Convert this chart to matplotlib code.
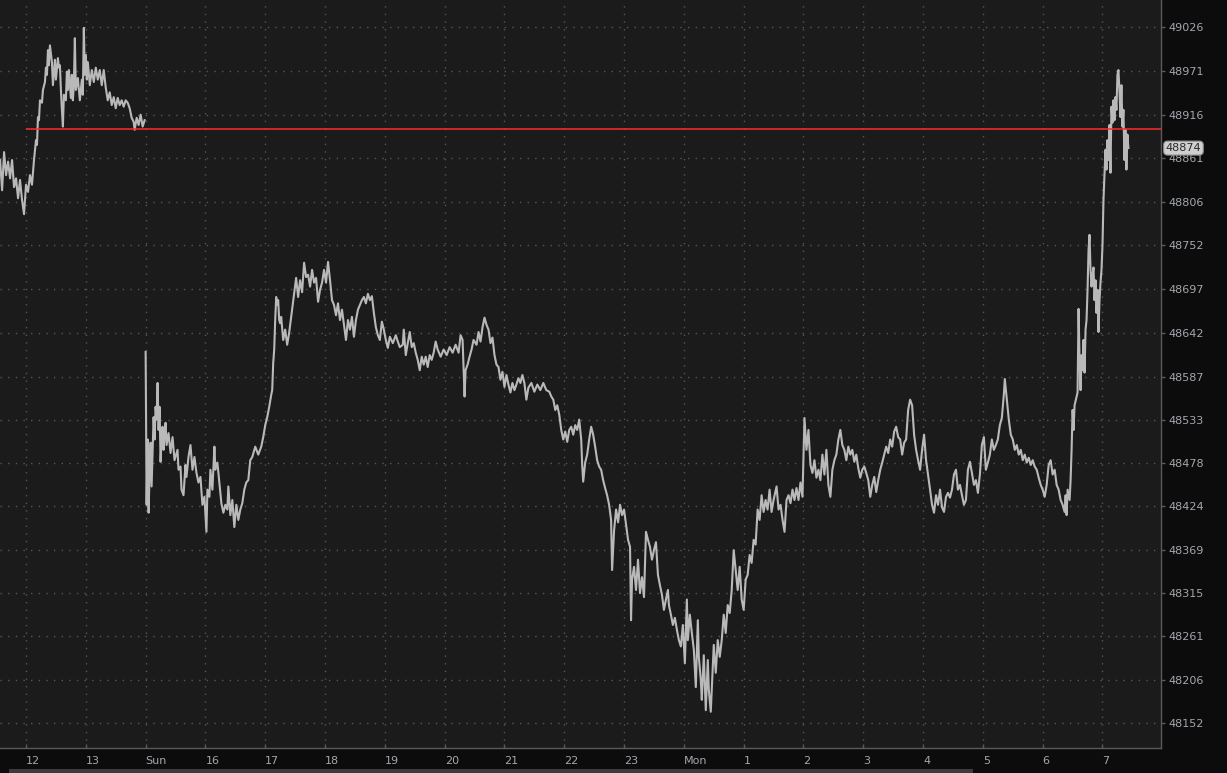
import matplotlib.pyplot as plt
from matplotlib.patches import Rectangle
from matplotlib.transforms import blended_transform_factory

# session minutes from the "12" tick, and 1-min prices
fri_min = [-26, -24, -22, -20, -18, -16, -14, -12, -10, -8,
           -6, -4, -2, 0, 2, 4, 6, 8, 10, 11,
           12, 13, 14, 16, 17, 19, 20, 21, 22, 23,
           24, 26, 27, 29, 30, 32, 33, 34, 35, 36,
           37, 38, 40, 41, 42, 43, 45, 46, 47, 48,
           49, 50, 52, 54, 56, 57, 58, 59, 60, 61,
           62, 64, 66, 68, 70, 72, 74, 76, 78, 80,
           82, 84, 86, 88, 90, 92, 94, 96, 98, 100,
           102, 104, 106, 108, 109, 111, 113, 115, 117, 119]
fri_px = [48859, 48821, 48869, 48840, 48857, 48836, 48859, 48825, 48836, 48811,
          48834, 48809, 48791, 48828, 48819, 48840, 48828, 48859, 48884, 48878,
          48913, 48909, 48934, 48931, 48947, 48957, 48975, 48966, 48997, 48978,
          49003, 48982, 48953, 48985, 48960, 48987, 48975, 48978, 48947, 48922,
          48901, 48941, 48934, 48970, 48947, 48972, 48937, 48966, 48934, 48953,
          49012, 48947, 48962, 48934, 48960, 48941, 49025, 48966, 48991, 48960,
          48982, 48953, 48972, 48957, 48975, 48960, 48972, 48953, 48972, 48950,
          48934, 48944, 48928, 48938, 48924, 48937, 48928, 48934, 48926, 48934,
          48931, 48924, 48912, 48907, 48897, 48912, 48903, 48916, 48901, 48909]

sun_min = [120, 121, 122, 123, 124, 125, 126, 127, 128, 129,
           130, 131, 132, 133, 134, 135, 136, 137, 138, 139,
           140, 141, 143, 145, 147, 149, 152, 153, 155, 156,
           158, 160, 161, 163, 165, 167, 169, 171, 173, 175,
           177, 179, 181, 182, 184, 185, 187, 189, 190, 192,
           194, 196, 198, 200, 202, 203, 205, 207, 209, 211,
           213, 215, 217, 219, 221, 223, 225, 227, 230, 233,
           236, 238, 240, 242, 244, 246, 247, 248, 249, 250,
           251, 252, 253, 254, 255, 256, 258, 260, 262, 264,
           266, 268, 270, 271, 273, 275, 277, 279, 281, 283,
           285, 287, 289, 291, 293, 295, 297, 299, 301, 303,
           305, 307, 309, 311, 313, 315, 317, 319, 321, 323,
           325, 327, 329, 331, 333, 335, 337, 339, 341, 343,
           345, 347, 349, 351, 353, 355, 357, 359, 361, 363,
           365, 368, 371, 373, 375, 378, 379, 381, 383, 385,
           387, 389, 391, 393, 395, 397, 399, 401, 403, 405,
           407, 409, 411, 413, 416, 419, 422, 425, 428, 431,
           434, 436, 438, 439, 440, 441, 443, 445, 447, 449,
           452, 454, 456, 458, 460, 462, 464, 466, 468, 470,
           472, 474, 476, 478, 480, 482, 484, 486, 488, 490,
           492, 494, 496, 498, 500, 502, 504, 507, 510, 513,
           516, 519, 522, 525, 527, 529, 531, 533, 535, 537,
           539, 541, 543, 545, 547, 549, 551, 553, 555, 557,
           558, 559, 561, 563, 565, 567, 569, 571, 573, 575,
           577, 579, 581, 583, 585, 587, 588, 590, 592, 594,
           596, 598, 600, 602, 604, 606, 607, 608, 610, 612,
           614, 616, 618, 620, 622, 624, 626, 628, 630, 632,
           634, 636, 638, 640, 642, 644, 645, 647, 649, 651,
           653, 655, 657, 659, 661, 663, 664, 666, 668, 670,
           672, 674, 675, 677, 678, 680, 682, 684, 685, 687,
           688, 690, 692, 694, 696, 698, 700, 702, 704, 706,
           708, 710, 712, 714, 716, 718, 720, 722, 724, 726,
           728, 730, 732, 734, 736, 738, 740, 742, 744, 746,
           748, 750, 753, 755, 757, 759, 761, 763, 765, 767,
           769, 771, 773, 775, 777, 779, 781, 783, 785, 787,
           789, 791, 793, 795, 797, 799, 801, 803, 805, 807,
           809, 811, 813, 815, 817, 819, 821, 823, 825, 827,
           829, 831, 833, 835, 837, 839, 841, 843, 845, 847,
           849, 851, 853, 855, 857, 859, 861, 863, 865, 867,
           869, 871, 873, 875, 877, 879, 881, 883, 885, 887,
           889, 891, 893, 895, 897, 899, 901, 903, 905, 907,
           909, 911, 913, 915, 917, 919, 921, 923, 925, 927,
           929, 931, 933, 935, 937, 939, 941, 943, 945, 947,
           949, 951, 953, 955, 957, 959, 961, 963, 965, 967,
           969, 971, 973, 975, 977, 979, 981, 982, 984, 986,
           988, 990, 992, 994, 996, 998, 1000, 1002, 1004, 1006,
           1008, 1010, 1012, 1014, 1016, 1018, 1020, 1022, 1024, 1026,
           1028, 1030, 1032, 1034, 1036, 1038, 1040, 1042, 1043, 1044,
           1045, 1047, 1048, 1049, 1050, 1051, 1052, 1054, 1055, 1056,
           1057, 1058, 1059, 1060, 1061, 1062, 1063, 1064, 1065, 1066,
           1067, 1068, 1069, 1070, 1071, 1072, 1073, 1074, 1075, 1076,
           1077, 1078, 1079, 1080, 1081, 1082, 1083, 1084, 1085, 1086,
           1087, 1088, 1089, 1090, 1091, 1092, 1093, 1094, 1095, 1096,
           1097, 1098, 1099, 1100, 1101, 1102, 1103, 1104, 1105, 1106]
sun_px = [48618, 48426, 48508, 48416, 48470, 48504, 48449, 48495, 48536, 48508,
          48549, 48533, 48579, 48520, 48549, 48480, 48508, 48524, 48495, 48514,
          48529, 48501, 48516, 48491, 48511, 48482, 48495, 48470, 48474, 48445,
          48438, 48476, 48461, 48486, 48501, 48470, 48486, 48466, 48454, 48461,
          48426, 48436, 48392, 48445, 48436, 48470, 48445, 48499, 48470, 48479,
          48454, 48428, 48416, 48426, 48420, 48449, 48413, 48432, 48398, 48426,
          48407, 48420, 48428, 48445, 48454, 48457, 48482, 48486, 48499, 48489,
          48499, 48511, 48526, 48536, 48549, 48564, 48570, 48604, 48621, 48658,
          48687, 48677, 48683, 48658, 48654, 48662, 48633, 48646, 48627, 48642,
          48662, 48683, 48702, 48711, 48687, 48708, 48693, 48730, 48712, 48715,
          48700, 48721, 48705, 48711, 48681, 48696, 48705, 48721, 48705, 48731,
          48708, 48683, 48677, 48664, 48679, 48658, 48671, 48652, 48633, 48658,
          48646, 48662, 48637, 48658, 48671, 48677, 48683, 48687, 48679, 48691,
          48683, 48688, 48667, 48649, 48639, 48633, 48656, 48646, 48633, 48623,
          48637, 48629, 48639, 48631, 48624, 48627, 48646, 48614, 48629, 48643,
          48624, 48629, 48617, 48608, 48595, 48612, 48602, 48612, 48599, 48614,
          48608, 48617, 48631, 48621, 48612, 48621, 48614, 48624, 48617, 48627,
          48617, 48639, 48633, 48599, 48562, 48595, 48602, 48612, 48621, 48633,
          48627, 48643, 48631, 48649, 48661, 48652, 48646, 48629, 48636, 48614,
          48602, 48599, 48583, 48593, 48574, 48589, 48577, 48567, 48579, 48570,
          48577, 48585, 48579, 48589, 48579, 48558, 48573, 48579, 48568, 48577,
          48570, 48579, 48570, 48568, 48562, 48558, 48545, 48551, 48539, 48520,
          48508, 48518, 48505, 48520, 48524, 48514, 48526, 48520, 48533, 48508,
          48476, 48455, 48479, 48489, 48508, 48524, 48514, 48499, 48482, 48474,
          48470, 48457, 48447, 48438, 48426, 48407, 48344, 48394, 48420, 48404,
          48426, 48413, 48420, 48401, 48382, 48373, 48281, 48332, 48348, 48319,
          48357, 48315, 48335, 48310, 48392, 48382, 48373, 48357, 48369, 48379,
          48338, 48325, 48313, 48294, 48307, 48319, 48300, 48288, 48275, 48284,
          48269, 48256, 48248, 48275, 48227, 48307, 48256, 48288, 48265, 48244,
          48197, 48281, 48235, 48206, 48181, 48237, 48168, 48231, 48194, 48166,
          48194, 48250, 48215, 48256, 48235, 48256, 48288, 48265, 48300, 48290,
          48319, 48369, 48344, 48319, 48348, 48307, 48294, 48332, 48338, 48363,
          48353, 48382, 48376, 48420, 48407, 48438, 48417, 48432, 48420, 48445,
          48417, 48432, 48449, 48420, 48426, 48407, 48392, 48432, 48438, 48428,
          48445, 48432, 48447, 48432, 48454, 48436, 48535, 48495, 48520, 48476,
          48466, 48482, 48460, 48470, 48457, 48489, 48464, 48495, 48451, 48436,
          48470, 48482, 48489, 48508, 48520, 48501, 48495, 48482, 48499, 48489,
          48495, 48480, 48489, 48472, 48460, 48470, 48474, 48466, 48457, 48436,
          48451, 48461, 48442, 48457, 48470, 48479, 48489, 48499, 48491, 48508,
          48499, 48518, 48524, 48511, 48508, 48489, 48504, 48508, 48545, 48558,
          48551, 48514, 48495, 48482, 48470, 48495, 48514, 48482, 48464, 48445,
          48426, 48416, 48438, 48426, 48445, 48423, 48417, 48436, 48441, 48435,
          48445, 48464, 48470, 48445, 48451, 48438, 48426, 48432, 48470, 48480,
          48466, 48451, 48457, 48441, 48464, 48501, 48511, 48470, 48479, 48489,
          48508, 48495, 48501, 48508, 48526, 48535, 48564, 48584, 48558, 48533,
          48514, 48508, 48495, 48501, 48489, 48495, 48482, 48489, 48479, 48485,
          48476, 48482, 48474, 48470, 48460, 48451, 48445, 48436, 48451, 48476,
          48482, 48464, 48470, 48451, 48445, 48432, 48426, 48417, 48438, 48413,
          48445, 48432, 48457, 48495, 48545, 48520, 48551, 48562, 48567, 48672,
          48608, 48570, 48614, 48595, 48633, 48592, 48646, 48658, 48696, 48746,
          48765, 48721, 48700, 48715, 48724, 48683, 48708, 48667, 48696, 48643,
          48683, 48705, 48721, 48752, 48809, 48840, 48872, 48847, 48884, 48859,
          48903, 48843, 48926, 48906, 48934, 48909, 48938, 48922, 48966, 48972,
          48947, 48913, 48953, 48901, 48922, 48859, 48897, 48847, 48891, 48874]

ref_level = 48898
last_price = 48874
y_ticks = [49026, 48971, 48916, 48861, 48806, 48752, 48697, 48642, 48587,
           48533, 48478, 48424, 48369, 48315, 48261, 48206, 48152]
x_labels = ['12', '13', 'Sun', '16', '17', '18', '19', '20', '21', '22',
            '23', 'Mon', '1', '2', '3', '4', '5', '6', '7']

assert len(fri_min) == len(fri_px) and len(sun_min) == len(sun_px)

W, H = 1227, 773
fig = plt.figure(figsize=(W / 100, H / 100), dpi=100, facecolor='#0c0c0c')
ax = fig.add_axes([0, 25 / H, 1161 / W, 748 / H])
ax.set_facecolor('#1b1b1b')

line_col = '#b9b9b9'
ax.plot(fri_min, fri_px, color=line_col, lw=1.5, zorder=3)
ax.plot(sun_min, sun_px, color=line_col, lw=1.5, zorder=3)
ax.hlines(ref_level, 0, 1140, color='#ff2b2b', lw=1.1, zorder=4)

ax.set_xlim(-26.1, 1138.7)
ax.set_ylim(48120.5, 49060)

ax.yaxis.tick_right()
ax.set_yticks(y_ticks)
ax.set_yticklabels([str(v) for v in y_ticks])
ax.set_xticks([60 * i for i in range(len(x_labels))])
ax.set_xticklabels(x_labels)
for lab in ax.get_xticklabels():
    lab.set_horizontalalignment('left')

lab_col = '#a3a7ad'
ax.tick_params(axis='y', which='both', length=3, width=1, color='#5a5a5a',
               labelcolor=lab_col, labelsize=8, pad=2)
ax.tick_params(axis='x', direction='in', length=3, width=1, color='#5a5a5a',
               labelcolor=lab_col, labelsize=8, pad=6)

ax.grid(True, color='#575757', linestyle=(0, (1, 4.5)), linewidth=1.0)
ax.set_axisbelow(True)

for side in ['top', 'left']:
    ax.spines[side].set_visible(False)
for side in ['right', 'bottom']:
    ax.spines[side].set_color('#5a5a5a')
    ax.spines[side].set_linewidth(1)

# last price tag
trans = blended_transform_factory(ax.transAxes, ax.transData)
ax.text(1.004, last_price, str(last_price), transform=trans, fontsize=8,
        color='#2a2a2a', va='center', ha='left', clip_on=False,
        bbox=dict(boxstyle='round,pad=0.18,rounding_size=0.35',
                  fc='#cfcfcf', ec='#8a8a8a', lw=0.8))

# scrollbar strip at the bottom
fig.add_artist(Rectangle((9 / W, 0), (973 - 9) / W, 4 / H,
                         transform=fig.transFigure, color='#3b3b3b', lw=0))

fig.savefig('out.png', dpi=100, facecolor=fig.get_facecolor())
